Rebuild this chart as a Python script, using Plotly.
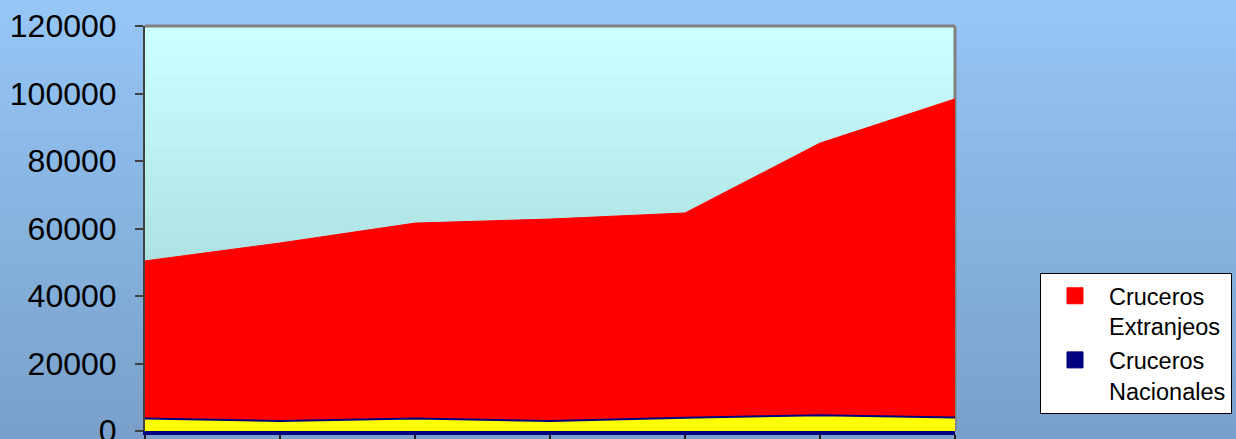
import plotly.graph_objects as go

# Data
periods = [0, 1, 2, 3, 4, 5, 6]
extranjeros = [50400, 55700, 61600, 62800, 64600, 85300, 98400]
nacionales = [3700, 3000, 3700, 3000, 3900, 4700, 4000]
y_ticks = [0, 20000, 40000, 60000, 80000, 100000, 120000]
names = ["Cruceros<br>Extranjeos", "Cruceros<br>Nacionales"]
series_colors = ["#ff0000", "#000080"]

W, H = 1236, 439
L, R, T, B = 145, 281, 26, 8
pw, ph = W - L - R, H - T - B

def lerp(c1, c2, t):
    return tuple(int(round(a + (b - a) * t)) for a, b in zip(c1, c2))

shapes = []
# page gradient
n = 40
x0p, x1p = -L / pw, 1 + R / pw
y0p, y1p = -B / ph, 1 + T / ph
top_c, bot_c = (149, 198, 246), (121, 160, 202)
for i in range(n):
    t = i / (n - 1)
    c = lerp(top_c, bot_c, t)
    ya = y1p - (y1p - y0p) * i / n
    yb = y1p - (y1p - y0p) * (i + 1) / n
    shapes.append(dict(type="rect", xref="paper", yref="paper", x0=x0p, x1=x1p,
                       y0=yb - 0.002, y1=ya, line=dict(width=0),
                       fillcolor="rgb(%d,%d,%d)" % c, layer="below"))
# plot area gradient
ptop, pbot = (204, 255, 255), (153, 206, 206)
for i in range(n):
    t = i / (n - 1)
    c = lerp(ptop, pbot, t)
    ya = 1 - i / n
    yb = 1 - (i + 1) / n
    shapes.append(dict(type="rect", xref="x domain", yref="y domain", x0=0, x1=1,
                       y0=max(yb - 0.002, 0), y1=ya, line=dict(width=0),
                       fillcolor="rgb(%d,%d,%d)" % c, layer="below"))
# plot frame (top and right)
shapes.append(dict(type="line", xref="x domain", yref="y domain", x0=1, x1=1, y0=0, y1=1,
                   line=dict(color="#808080", width=3), layer="below"))
shapes.append(dict(type="line", xref="x domain", yref="y domain", x0=0, x1=1, y0=1, y1=1,
                   line=dict(color="#808080", width=3), layer="above"))

fig = go.Figure()
fig.add_trace(go.Scatter(
    x=periods, y=extranjeros, name=names[0], mode="lines", showlegend=False,
    fill="tozeroy", fillcolor="#ff0000", line=dict(color="#ff0000", width=1),
    hoverinfo="skip"))
fig.add_trace(go.Scatter(
    x=periods, y=nacionales, name=names[1], mode="lines", showlegend=False,
    fill="tozeroy", fillcolor="#ffff00", line=dict(color="#000080", width=2),
    hoverinfo="skip"))
# legend entries (square swatches)
for nm, col in zip(names, series_colors):
    fig.add_trace(go.Scatter(
        x=[None], y=[None], name=nm, mode="markers",
        marker=dict(symbol="square", size=19, color=col,
                    line=dict(color=col, width=1)),
        hoverinfo="skip"))

font_family = "Liberation Sans, Arial, sans-serif"
fig.update_layout(
    width=W, height=H,
    margin=dict(l=L, r=R, t=T, b=B, pad=0, autoexpand=False),
    paper_bgcolor="rgb(135,179,224)",
    plot_bgcolor="rgba(0,0,0,0)",
    shapes=shapes,
    showlegend=True,
    legend=dict(
        x=(1040 - L) / pw, y=(431 - 273) / ph, xanchor="left", yanchor="top",
        bgcolor="white", bordercolor="black", borderwidth=1,
        font=dict(family=font_family, size=23.5, color="black"),
        valign="top", tracegroupgap=0, itemwidth=58,
    ),
    xaxis=dict(
        range=[0, 6], tickvals=periods, showticklabels=False,
        showgrid=False, zeroline=False, automargin=False,
        showline=True, linecolor="#000080", linewidth=4,
        ticks="outside", ticklen=5, tickcolor="#202020", tickwidth=2,
    ),
    yaxis=dict(
        range=[0, 120000], tickvals=y_ticks, ticktext=[str(v) for v in y_ticks],
        showgrid=False, zeroline=False, automargin=False,
        showline=True, linecolor="#404040", linewidth=2,
        ticks="outside", ticklen=8, tickcolor="#404040", tickwidth=2,
        tickfont=dict(family=font_family, size=32, color="black"),
        ticklabelstandoff=12, ticklabeloverflow="allow",
    ),
)

fig.write_html(
    "out.html",
    config={"displayModeBar": False},
    post_script="document.body.style.margin='0';document.body.style.overflow='hidden';",
)
